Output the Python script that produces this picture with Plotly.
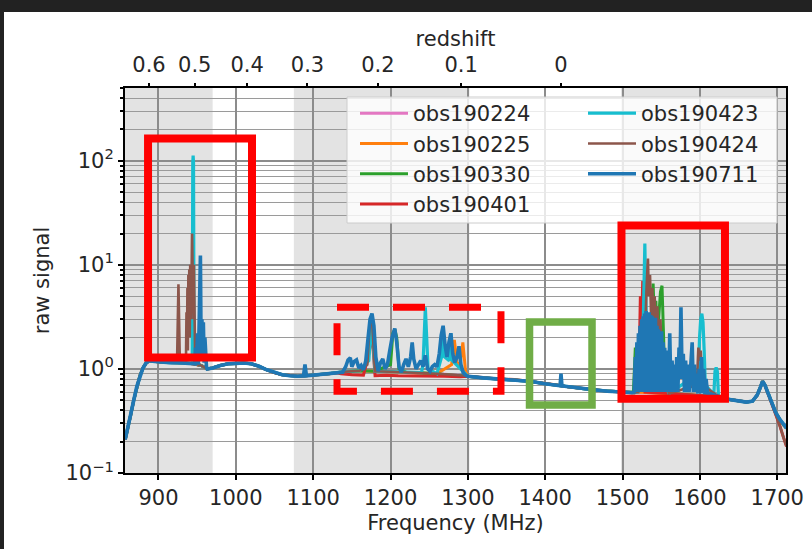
import plotly.graph_objects as go
import math

HI_REST = 1420.405751  # MHz

names = ["obs190224", "obs190225", "obs190330", "obs190401",
         "obs190423", "obs190424", "obs190711"]
colors = ["#e377c2", "#ff7f0e", "#2ca02c", "#d62728",
          "#17becf", "#8c564b", "#1f77b4"]
widths = [3.0, 3.0, 3.0, 3.0, 3.2, 2.6, 3.6]

# shared smooth bandpass
base_freq = [857, 860, 864, 868, 872, 876, 880, 884, 888, 895, 905, 915, 925, 935,
             945, 955, 963, 970, 980, 990, 1000, 1010, 1020, 1030, 1040, 1050, 1060,
             1070, 1080, 1090, 1100, 1110, 1120, 1130, 1140, 1160, 1180, 1200, 1220,
             1240, 1260, 1280, 1300, 1320, 1340, 1360, 1380, 1400, 1415, 1425, 1440,
             1460, 1480, 1500, 1515, 1520, 1560, 1600, 1625, 1630, 1645, 1660, 1668,
             1674, 1678, 1681, 1684, 1688, 1693, 1698, 1703, 1708, 1712]
base_val = [0.21, 0.26, 0.36, 0.50, 0.68, 0.86, 1.02, 1.14, 1.20, 1.18, 1.16, 1.15, 1.15, 1.14,
            1.12, 1.08, 1.00, 1.02, 1.08, 1.12, 1.13, 1.14, 1.12, 1.06, 0.98, 0.92, 0.88,
            0.86, 0.85, 0.86, 0.87, 0.88, 0.90, 0.92, 0.94, 0.96, 0.95, 0.94, 0.93,
            0.92, 0.90, 0.88, 0.85, 0.82, 0.80, 0.79, 0.76, 0.72, 0.70, 0.68, 0.66,
            0.63, 0.61, 0.60, 0.59, 0.60, 0.58, 0.56, 0.54, 0.52, 0.50, 0.48, 0.49,
            0.56, 0.66, 0.76, 0.70, 0.58, 0.47, 0.38, 0.33, 0.29, 0.27]

# RFI / excess segments per observation, each a contiguous run of (MHz, raw signal)
rfi_190225_a = [(1279, 1.1), (1282.5, 1.9), (1286, 1.15)]
rfi_190225_b = [(1290, 1.1), (1293.5, 1.8), (1297, 0.95)]

rfi_190330_a = [(1200, 1.1), (1203, 2.2), (1205.5, 2.4), (1208, 2.0), (1211, 1.0)]
rfi_190330_b = [(1514, 0.6), (1516.5, 1.6), (1518, 0.7)]
rfi_190330_c = [(1536, 1.5), (1538, 4.0), (1539.5, 6.6), (1541, 3.0), (1543, 4.5), (1545, 2.0),
                (1547, 3.5), (1549, 5.5), (1551, 6.3), (1552.5, 3.0), (1554, 1.2)]

rfi_190401_a = [(1136, 0.9), (1150, 0.88), (1165, 0.87), (1172, 1.4), (1176, 2.2), (1180, 0.86),
                (1195, 0.87), (1210, 0.86), (1230, 0.86), (1250, 0.85), (1270, 0.85), (1290, 0.84)]
rfi_190401_b = [(1520, 0.6), (1521.5, 1.2), (1523, 5.0), (1524.5, 2.0), (1526, 7.0),
                (1527.5, 2.0), (1529, 0.6)]
rfi_190401_c = [(1698, 0.36), (1703, 0.29), (1708, 0.22), (1712, 0.18)]

rfi_190423_a = [(943.6, 1.13), (944.3, 95), (944.8, 112), (945.3, 95), (946.0, 1.13)]
rfi_190423_b = [(1172, 1.2), (1175, 3.0), (1178, 1.3)]
rfi_190423_c = [(1242, 1.1), (1244, 2.5), (1245, 3.9), (1246.5, 2.2), (1248.5, 1.0)]
rfi_190423_d = [(1266, 1.3), (1268, 2.4), (1270, 1.3)]
rfi_190423_e = [(1276, 1.2), (1278, 2.2), (1280, 1.2)]
rfi_190423_f = [(1526, 1.5), (1527.5, 6.0), (1528.8, 16.0), (1530, 5.0), (1531.5, 2.0)]
rfi_190423_g = [(1598, 0.9), (1599.5, 2.0), (1601, 3.0), (1602.5, 3.4), (1604, 2.8),
                (1605.5, 1.5), (1607, 0.7)]
rfi_190423_h = [(1618, 0.57), (1619.5, 0.95), (1621, 1.03), (1622.5, 0.95), (1624, 0.55)]

rfi_190424_a = [(924, 1.15), (925.8, 6.5), (927.6, 1.15)]
rfi_190424_b = [(935.5, 1.14), (936.2, 3.5), (936.8, 1.5), (937.4, 6.0), (938.0, 1.5), (938.6, 8.0),
                (939.2, 2.0), (939.8, 9.0), (940.4, 2.0), (941.0, 10.0), (941.6, 3.0), (942.2, 10.0),
                (942.8, 8.0), (943.4, 20.0), (944.0, 6.0), (944.6, 10.0), (945.2, 3.0),
                (945.8, 10.0), (946.4, 2.0), (947.5, 1.12)]
rfi_190424_c = [(1170, 1.1), (1173, 2.6), (1176, 3.0), (1179, 1.2)]
rfi_190424_d = [(1529, 2.0), (1531, 6.0), (1532.8, 11.5), (1534, 5.0), (1535.5, 8.0),
                (1537, 3.0), (1538.5, 6.0), (1540, 2.5), (1541.5, 5.0), (1543, 2.0),
                (1545, 4.0), (1547, 1.5), (1549, 3.0), (1551, 1.0)]
rfi_190424_e = [(1596, 0.7), (1598, 1.6), (1600, 1.2), (1601, 1.5), (1603, 0.7)]
rfi_190424_f = [(1698, 0.36), (1703, 0.29), (1708, 0.22), (1712, 0.18)]

rfi_190711_a = [(947, 1.12), (948, 1.6), (949, 1.1), (950.5, 2.2), (951.5, 1.1), (953.0, 4.0),
                (953.6, 12.0), (954.2, 12.3), (954.8, 3.0), (955.4, 1.2), (956.2, 3.0), (957.0, 1.2),
                (958.0, 2.8), (959.0, 1.15), (960.0, 2.0), (961.0, 1.1), (962, 1.05)]
rfi_190711_b = [(1087.5, 0.86), (1089.4, 1.1), (1091.3, 0.86)]
rfi_190711_c = [(1138, 0.93), (1142, 1.05), (1145, 1.22), (1148, 1.28), (1150, 1.05),
                (1153, 1.18), (1156, 1.22), (1159, 1.02), (1162, 1.08), (1165, 0.98),
                (1168, 1.2), (1171, 2.0), (1173.5, 3.0), (1176, 3.4), (1178.5, 2.6),
                (1181, 1.3), (1184, 0.95), (1187, 1.15), (1190, 1.25), (1193, 1.0),
                (1196, 1.1), (1199, 1.5), (1202, 2.0), (1205.5, 2.45), (1208, 1.8),
                (1211, 1.05), (1214, 0.93), (1217, 1.1), (1220, 1.25), (1223, 1.05),
                (1226, 1.3), (1228, 1.8), (1230, 1.25), (1233, 1.0), (1236, 1.12),
                (1239, 1.2), (1242, 1.05), (1245, 1.35), (1248, 1.0), (1251, 0.95),
                (1254, 1.05), (1257, 1.1), (1260, 1.05), (1263, 1.4), (1265.5, 2.1),
                (1268, 2.6), (1270.5, 1.7), (1273, 1.3), (1275.5, 1.8), (1278, 2.2),
                (1280.5, 1.4), (1283, 1.15), (1286, 1.3), (1288.5, 1.65), (1291, 1.1),
                (1294, 0.92), (1298, 0.86)]
rfi_190711_d = [(1419.2, 0.69), (1420.4, 0.9), (1421.6, 0.69)]
rfi_190711_e = [(1512, 0.59), (1515, 0.6), (1516.5, 1.3), (1517.5, 0.6), (1518.5, 1.8),
                (1519.5, 0.6), (1520.5, 2.2), (1521.5, 0.6), (1522.5, 2.6), (1523.5, 0.6),
                (1524.5, 3.0), (1525.5, 0.6), (1526.5, 3.2), (1527.5, 0.6), (1528.5, 3.4),
                (1529.5, 0.6), (1530.5, 3.6), (1531.5, 0.6), (1532.5, 3.4), (1533.5, 0.6),
                (1534.5, 3.5), (1535.5, 0.6), (1536.5, 3.3), (1537.5, 0.6), (1538.5, 3.2),
                (1539.5, 0.6), (1540.5, 3.0), (1541.5, 0.6), (1542.5, 3.1), (1543.5, 0.6),
                (1544.5, 2.6), (1545.5, 0.6), (1546.5, 2.4), (1547.5, 0.6), (1548.5, 2.2),
                (1549.5, 0.6), (1550.5, 2.3), (1551.5, 0.6), (1552.5, 1.8), (1553.5, 0.6),
                (1554.5, 1.6), (1555.5, 0.6), (1556.5, 1.5), (1557.5, 0.6), (1558.5, 1.3),
                (1559.5, 0.6), (1561, 2.2), (1562.5, 0.6), (1564, 1.2), (1565.5, 0.6),
                (1567, 1.1), (1568.5, 0.6), (1570, 1.3), (1571.5, 0.6), (1573, 1.6),
                (1574, 0.8), (1575.5, 3.9), (1577, 0.8), (1578.5, 1.4), (1580, 0.6),
                (1581.5, 1.2), (1583, 0.6), (1584.5, 1.1), (1586, 0.6), (1588, 1.2),
                (1590, 1.8), (1591.5, 0.6), (1593, 1.1), (1594.5, 0.6), (1596, 0.9),
                (1597.5, 0.58), (1599, 1.0), (1600.5, 0.58), (1602, 1.3), (1603.5, 0.58),
                (1605, 1.0), (1606.5, 0.57), (1608, 0.8), (1610, 0.57), (1613, 0.58),
                (1616, 0.57), (1620, 0.56), (1625, 0.54)]

segments = {
    "obs190224": [],
    "obs190225": [rfi_190225_a, rfi_190225_b],
    "obs190330": [rfi_190330_a, rfi_190330_b, rfi_190330_c],
    "obs190401": [rfi_190401_a, rfi_190401_b, rfi_190401_c],
    "obs190423": [rfi_190423_a, rfi_190423_b, rfi_190423_c, rfi_190423_d,
                  rfi_190423_e, rfi_190423_f, rfi_190423_g, rfi_190423_h],
    "obs190424": [rfi_190424_a, rfi_190424_b, rfi_190424_c, rfi_190424_d,
                  rfi_190424_e, rfi_190424_f],
    "obs190711": [rfi_190711_a, rfi_190711_b, rfi_190711_c, rfi_190711_d, rfi_190711_e],
}

# shaded bands (MHz)
band_lo = [850, 1075, 1498]
band_hi = [970, 1302, 1720]

redshift_ticks = [0.6, 0.5, 0.4, 0.3, 0.2, 0.1, 0.0]
redshift_text = ["0.6", "0.5", "0.4", "0.3", "0.2", "0.1", "0"]

freq_ticks = [900, 1000, 1100, 1200, 1300, 1400, 1500, 1600, 1700]
xr = [856.7, 1711.3]
yr = [0.1, 500.0]

# highlight boxes: (f0, f1, v0, v1)
box_left = (886.5, 1020.9, 1.285, 163.7)
box_right = (1498.6, 1632.4, 0.518, 23.9)
box_green = (1379.7, 1460.5, 0.449, 2.82)
box_dash = (1130.8, 1342.8, 0.61, 3.91)


def build(segs):
    spans = [(min(p[0] for p in s), max(p[0] for p in s)) for s in segs]
    pts = [(f, v) for f, v in zip(base_freq, base_val)
           if not any(a <= f <= b for a, b in spans)]
    for s in segs:
        pts += s
    pts.sort(key=lambda p: p[0])
    return [p[0] for p in pts], [p[1] for p in pts]


L, R, T, B = 125, 26, 88, 76
W, H = 812, 549
pw, ph = W - L - R, H - T - B


def pxx(px):
    return (px - L) / pw


def pxy(py):
    return (H - B - py) / ph


ylo, yhi = math.log10(yr[0]), math.log10(yr[1])


def ydom(v):
    return (math.log10(v) - ylo) / (yhi - ylo)


FONT = "DejaVu Sans"
TXT = "#262626"

fig = go.Figure()
for i, n in enumerate(names):
    fx, fv = build(segments[n])
    fig.add_trace(go.Scatter(
        x=fx, y=fv, mode="lines", name=n,
        line=dict(color=colors[i], width=widths[i]),
        legend="legend" if i < 4 else "legend2",
    ))

# anchor trace for the redshift axis
fig.add_trace(go.Scatter(x=[base_freq[0]], y=[base_val[0]], xaxis="x2", mode="markers",
                         marker=dict(opacity=0), showlegend=False, hoverinfo="skip"))

shapes = []
# dark frame of the screenshot
shapes.append(dict(type="rect", xref="paper", yref="paper", x0=pxx(0), x1=pxx(W),
                   y0=pxy(12), y1=pxy(0), fillcolor="#222222", line_width=0, layer="below"))
shapes.append(dict(type="rect", xref="paper", yref="paper", x0=pxx(0), x1=pxx(4),
                   y0=pxy(H), y1=pxy(0), fillcolor="#222222", line_width=0, layer="below"))
for a, b in zip(band_lo, band_hi):
    shapes.append(dict(type="rect", xref="x", yref="y domain", x0=a, x1=b, y0=0, y1=1,
                       fillcolor="#e3e3e3", line_width=0, layer="below"))
# legend frame
shapes.append(dict(type="rect", xref="paper", yref="paper", x0=pxx(347), x1=pxx(777),
                   y0=pxy(223), y1=pxy(97), fillcolor="rgba(255,255,255,0.8)",
                   line=dict(color="#cccccc", width=1), layer="above"))
for bx, col, w in [(box_left, "#ff0000", 8), (box_right, "#ff0000", 8), (box_green, "#70ad47", 7.5)]:
    shapes.append(dict(type="rect", xref="x", yref="y domain", x0=bx[0], x1=bx[1],
                       y0=ydom(bx[2]), y1=ydom(bx[3]), line=dict(color=col, width=w),
                       fillcolor="rgba(0,0,0,0)", layer="above"))
f0, f1, v0, v1 = box_dash
path = "M {a},{t} L {b},{t} L {b},{u} L {a},{u} Z".format(a=f0, b=f1, t=ydom(v1), u=ydom(v0))
shapes.append(dict(type="path", xref="x", yref="y domain", path=path,
                   line=dict(color="#ff0000", width=7, dash="32px,24px"), layer="above"))

minor_vals = [m * 10 ** e for e in range(-1, 3) for m in range(2, 10) if m * 10 ** e <= yr[1]]

axis_common = dict(showline=True, linecolor="black", linewidth=2, ticks="outside",
                   tickcolor="black", tickwidth=1.5, ticklen=5,
                   tickfont=dict(family=FONT, size=21, color=TXT), automargin=False)

fig.update_layout(
    width=W, height=H,
    margin=dict(l=L, r=R, t=T, b=B),
    paper_bgcolor="white", plot_bgcolor="white",
    font=dict(family=FONT, size=21, color=TXT),
    shapes=shapes,
    xaxis=dict(range=xr, tickvals=freq_ticks, mirror=True, showgrid=True,
               gridcolor="#8c8c8c", gridwidth=1.5, zeroline=False,
               title=dict(text="Frequency (MHz)", font=dict(family=FONT, size=21, color=TXT), standoff=6),
               **axis_common),
    xaxis2=dict(range=xr, overlaying="x", side="top", showgrid=False, zeroline=False,
                tickvals=[HI_REST / (1 + z) for z in redshift_ticks], ticktext=redshift_text,
                ticks="outside", tickcolor="black", tickwidth=1.5, ticklen=4,
                ticklabelstandoff=3,
                tickfont=dict(family=FONT, size=21, color=TXT), automargin=False,
                title=dict(text="redshift", font=dict(family=FONT, size=21, color=TXT), standoff=0)),
    yaxis=dict(type="log", range=[ylo, yhi], mirror=True, showgrid=True,
               gridcolor="#8c8c8c", gridwidth=1.5, zeroline=False,
               tickvals=[0.1, 1, 10, 100],
               ticktext=["10<sup>\u22121</sup>", "10<sup>0</sup>", "10<sup>1</sup>", "10<sup>2</sup>"],
               minor=dict(tickvals=minor_vals, ticks="outside", ticklen=3, tickcolor="black",
                          showgrid=True, gridcolor="#9a9a9a", gridwidth=1.2),
               title=dict(text="raw signal", font=dict(family=FONT, size=21, color=TXT), standoff=10),
               **axis_common),
    legend=dict(x=pxx(355), y=pxy(93), xanchor="left", yanchor="top",
                bgcolor="rgba(0,0,0,0)", borderwidth=0, itemwidth=48,
                font=dict(family=FONT, size=21, color=TXT), tracegroupgap=0),
    legend2=dict(x=pxx(583), y=pxy(93), xanchor="left", yanchor="top",
                 bgcolor="rgba(0,0,0,0)", borderwidth=0, itemwidth=48,
                 font=dict(family=FONT, size=21, color=TXT), tracegroupgap=0),
)

fig.write_html("out.html")
